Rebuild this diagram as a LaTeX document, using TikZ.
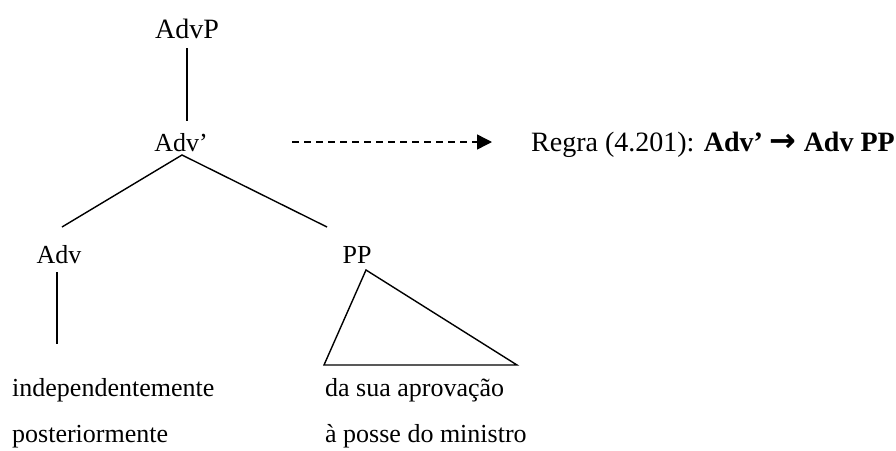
\documentclass[tikz,border=0pt]{standalone}
\usepackage{fontspec}
\setmainfont{Liberation Serif}
\newfontfamily\arrowfont{DejaVu Sans}
\usetikzlibrary{arrows.meta}
\begin{document}
\begin{tikzpicture}[x=1pt,y=-1pt,
  lbl/.style={font=\fontsize{26}{30}\selectfont, inner sep=0pt, anchor=base},
  lblw/.style={lbl, anchor=base west},
  rulelbl/.style={lblw, font=\fontsize{28}{32}\selectfont},
  edge/.style={line width=1.4pt},
  dasharrow/.style={line width=1.4pt, dash pattern=on 7pt off 5pt, -{Triangle[length=15pt,width=15pt]}}]
\useasboundingbox (0,0) rectangle (896,450);
\node[lbl, font=\fontsize{28}{32}\selectfont] (advp) at (187,38) {AdvP};
\node[lbl] (advbar) at (181,151) {Adv’};
\node[lbl] (adv) at (59,263) {Adv};
\node[lbl] (pp) at (357,263) {PP};
\node[lblw] (w1) at (12,396) {independentemente};
\node[lblw] (w2) at (12,442) {posteriormente};
\node[lblw] (w3) at (325,396) {da sua aprovação};
\node[lblw] (w4) at (325,442) {à posse do ministro};
\node[rulelbl] (rule) at (531,151) {Regra (4.201): \textbf{Adv’ {\arrowfont\bfseries\fontsize{32}{32}\selectfont →} Adv PP}};
% anchor points
\coordinate (advp-b) at (187,48);
\coordinate (advbar-t) at (187,121);
\coordinate (advbar-b) at (182,155);
\coordinate (adv-t) at (62,227);
\coordinate (pp-t) at (327,227);
\coordinate (adv-b) at (57,272);
\coordinate (adv-e) at (57,344);
\coordinate (tri-a) at (366,270);
\coordinate (tri-l) at (324,365);
\coordinate (tri-r) at (517,365);
\coordinate (arr-s) at (292,142);
\coordinate (arr-e) at (492,142);
\draw[edge] (advp-b) -- (advbar-t);
\draw[edge] (adv-t) -- (advbar-b) -- (pp-t);
\draw[edge] (adv-b) -- (adv-e);
\draw[edge, line join=miter] (tri-a) -- (tri-l) -- (tri-r) -- cycle;
\draw[dasharrow] (arr-s) -- (arr-e);
\end{tikzpicture}
\end{document}
